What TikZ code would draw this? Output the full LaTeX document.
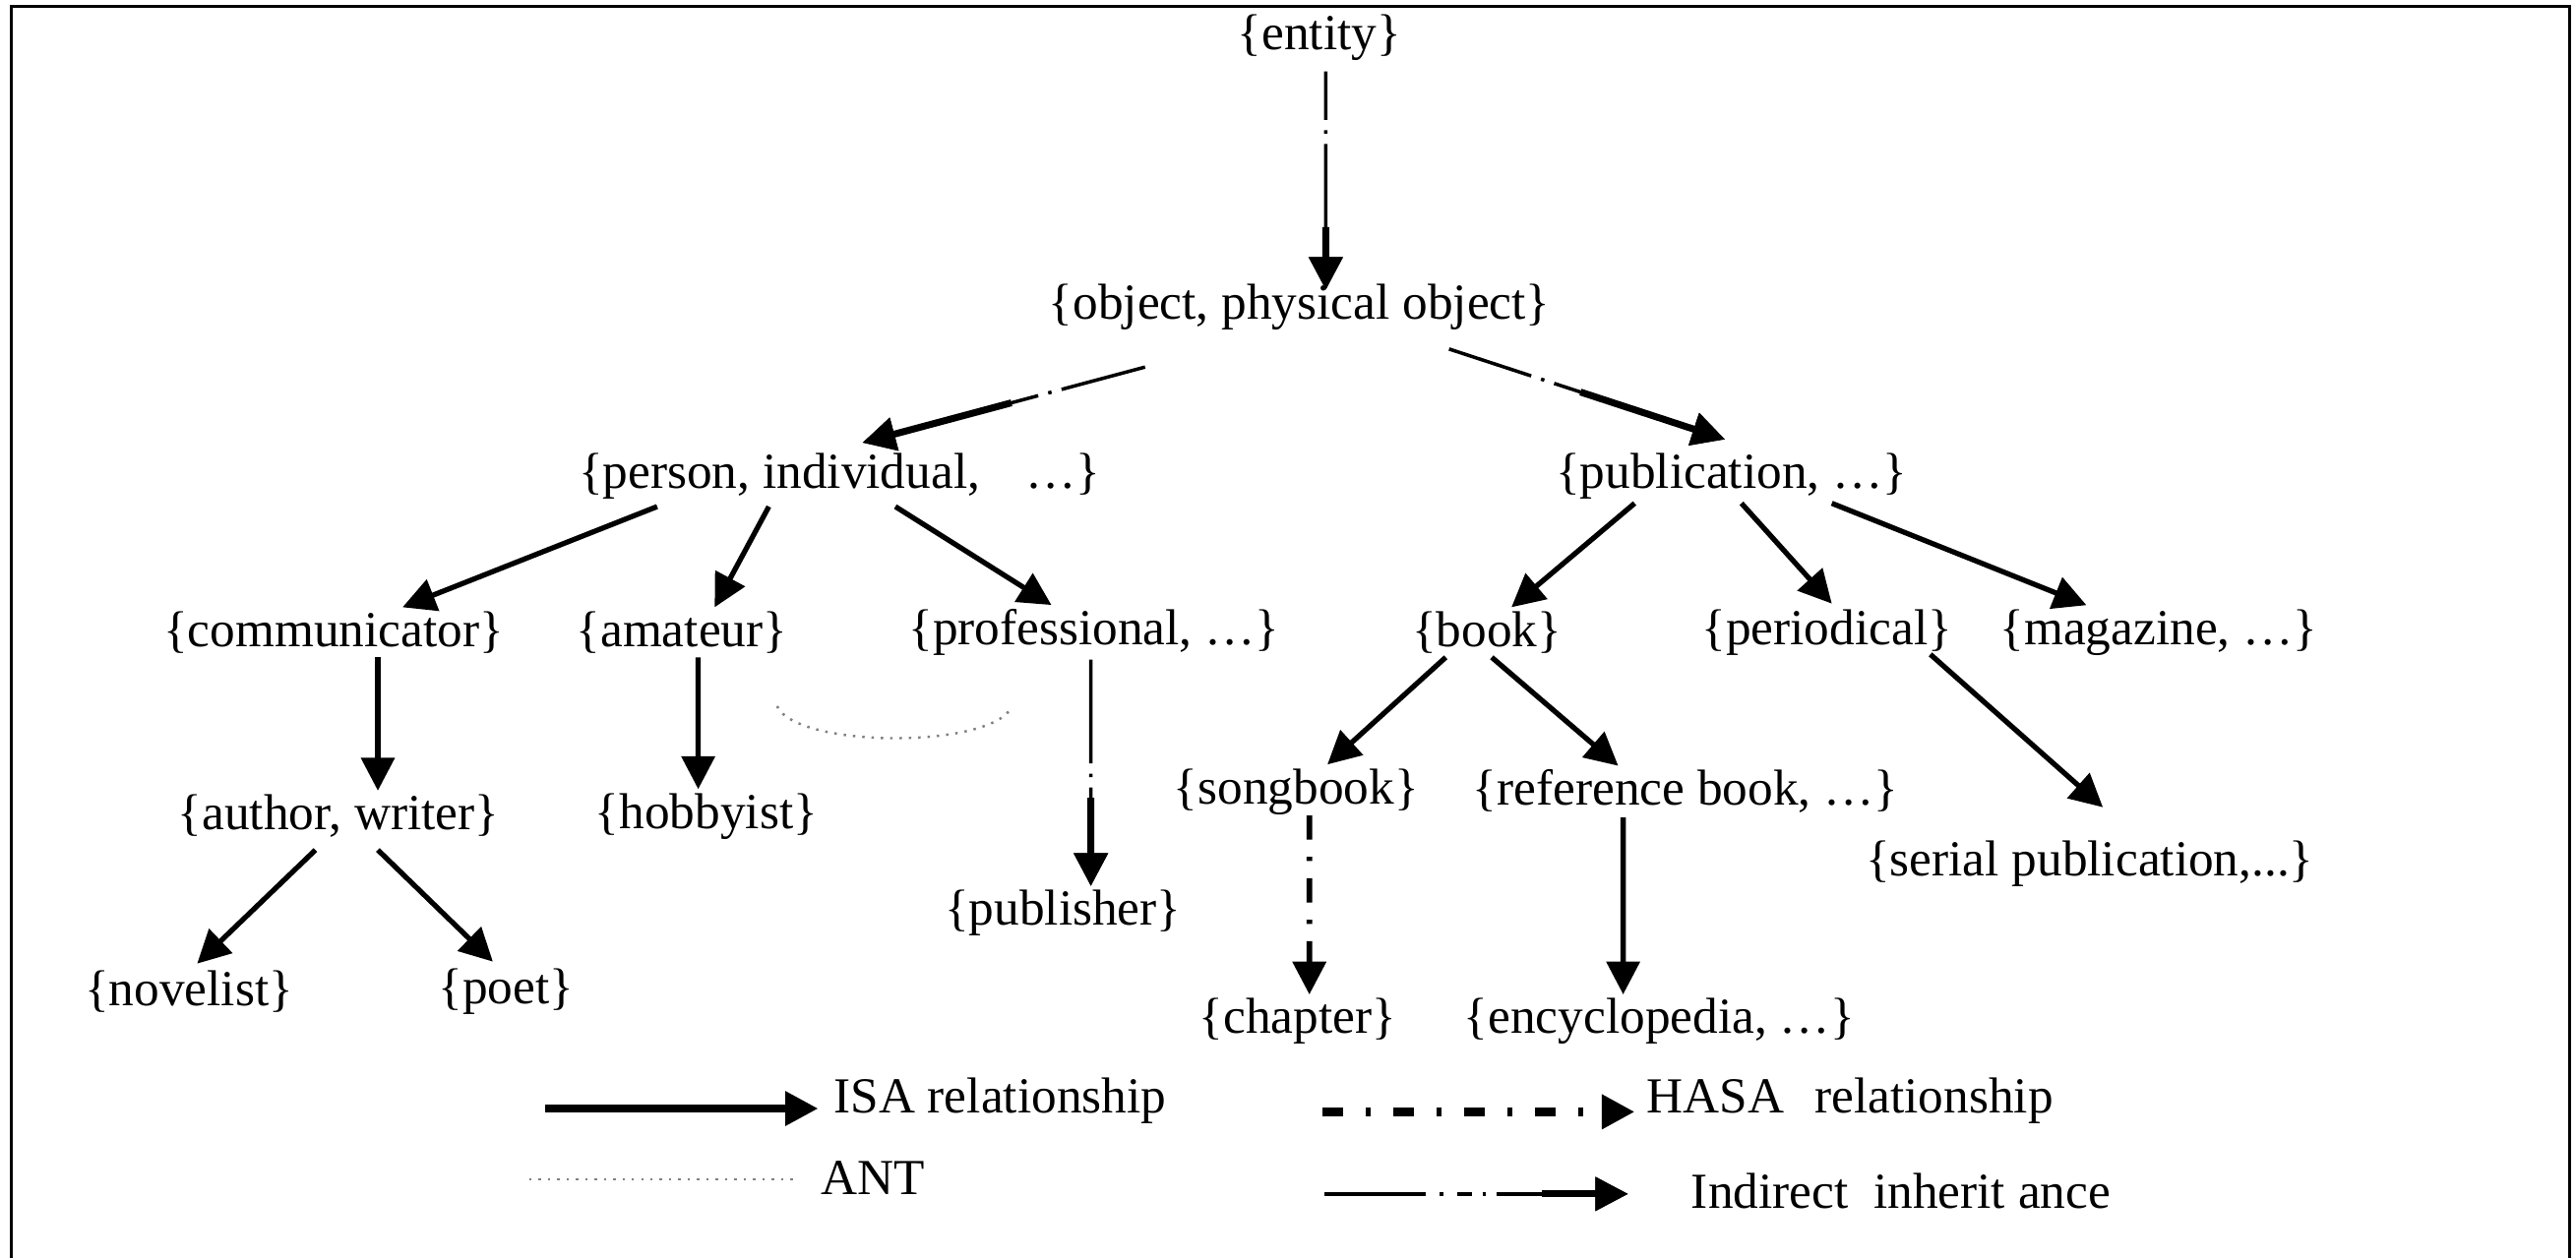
\documentclass[tikz,border=0pt]{standalone}
\usepackage{fontspec}
\setmainfont{Liberation Serif}
\usepackage{tikz}
\usetikzlibrary{arrows.meta}
\usetikzlibrary{calc}

\begin{document}
\begin{tikzpicture}[line join=miter,>={Triangle[length=9.5pt,width=9.5pt]},x=1.6696cm,y=1.6696cm,
  font=\fontsize{14.6}{17}\selectfont,
  every node/.style={inner sep=1pt},
  isa/.style={line width=1.5pt,->},
  hasa/.style={line width=1.6pt,dash pattern=on 7pt off 5pt on 1.2pt off 5pt,->},
  indirect/.style 2 args={line width=1pt,dash pattern=on #1 off 3pt on 1pt off 3pt on 400pt,->,postaction={draw,solid,line width=2pt,shorten <=#2}},
  ant/.style={line width=0.7pt,dotted,gray}]
\useasboundingbox (0,0) rectangle (15.68,-7.66);
\draw [line width=1pt] (0.07,-7.66)-- (0.07,-0.04)-- (15.64,-0.04)-- (15.64,-7.66);
% concepts
\draw (8.03,-0.23) node (entity) {\{entity\}};
\draw (7.91,-1.87) node (object) {\{object, physical object\}};
\draw (5.11,-2.90) node (person) {\{person, individual,\hspace{0.9em}\ldots\}};
\draw (10.54,-2.90) node (publication) {\{publication, \ldots\}};
\draw (2.03,-3.85) node (communicator) {\{communicator\}};
\draw (4.15,-3.85) node (amateur) {\{amateur\}};
\draw (6.66,-3.85) node (professional) {\{professional, \ldots\}};
\draw (9.05,-3.85) node (book) {\{book\}};
\draw (11.12,-3.85) node (periodical) {\{periodical\}};
\draw (13.14,-3.85) node (magazine) {\{magazine, \ldots\}};
\draw (2.06,-4.97) node (author) {\{author, writer\}};
\draw (4.30,-4.97) node (hobbyist) {\{hobbyist\}};
\draw (7.89,-4.82) node (songbook) {\{songbook\}};
\draw (10.26,-4.82) node (refbook) {\{reference book, \ldots\}};
\draw (6.47,-5.56) node (publisher) {\{publisher\}};
\draw (12.72,-5.26) node (serial) {\{serial publication,...\}};
\draw (1.15,-6.04) node (novelist) {\{novelist\}};
\draw (3.08,-6.04) node (poet) {\{poet\}};
\draw (7.90,-6.22) node (chapter) {\{chapter\}};
\draw (10.10,-6.22) node (encyclopedia) {\{encyclopedia, \ldots\}};
% links
\draw [indirect={14pt}{45pt}] ($(entity.south)+(0.04,-0.04)$)-- ($(object.north)+(0.16,-0.06)$);
\draw [indirect={25pt}{40pt}] ($(object.south)+(-0.94,-0.20)$)-- ($(person.north)+(0.14,0.04)$);
\draw [indirect={25pt}{40pt}] ($(object.south)+(0.91,-0.09)$)-- ($(publication.north)+(-0.04,0.06)$);
\draw [isa] ($(person.south)+(-1.11,-0.02)$)-- ($(communicator.north)+(0.42,0)$);
\draw [isa] ($(person.south)+(-0.43,-0.02)$)-- ($(amateur.north)+(0.20,0)$);
\draw [isa] ($(person.south)+(0.34,-0.02)$)-- ($(professional.north)+(-0.26,0)$);
\draw [isa] ($(communicator.south)+(0.27,0)$)-- ($(author.north)+(0.24,0)$);
\draw [isa] ($(amateur.south)+(0.10,0)$)-- ($(hobbyist.north)+(-0.05,0)$);
\draw [indirect={30pt}{40pt}] ($(professional.south)+(-0.02,0)$)-- ($(publisher.north)+(0.17,0)$);
\draw [isa] ($(author.south)+(-0.14,-0.05)$)-- ($(novelist.north)+(0.05,0.02)$);
\draw [isa] ($(author.south)+(0.24,-0.05)$)-- ($(poet.north)+(-0.08,0.02)$);
\draw [isa] ($(publication.south)+(-0.59,0)$)-- ($(book.north)+(0.15,0)$);
\draw [isa] ($(publication.south)+(0.06,0)$)-- ($(periodical.north)+(0.03,0.01)$);
\draw [isa] ($(publication.south)+(0.61,0)$)-- ($(magazine.north)+(-0.44,0)$);
\draw [isa] ($(book.south)+(-0.25,0)$)-- ($(songbook.north)+(0.19,0)$);
\draw [isa] ($(book.south)+(0.03,0)$)-- ($(refbook.north)+(-0.41,0)$);
\draw [isa] ($(periodical.south)+(0.63,0.03)$)-- ($(serial.north)+(0.08,0.18)$);
\draw [hasa] ($(songbook.south)+(0.08,0.02)$)-- ($(chapter.north)+(0.07,0)$);
\draw [isa] ($(refbook.south)+(-0.38,0)$)-- ($(encyclopedia.north)+(-0.22,0)$);
\coordinate (antA) at (4.73,-4.30);
\coordinate (antB) at (6.16,-4.30);
\draw [ant] (antA) .. controls (4.85,-4.56) and (6.05,-4.56) .. (antB);
% legend
\coordinate (isaA) at (3.32,-6.75);
\coordinate (isaB) at (4.98,-6.75);
\draw [isa,line width=2.2pt] (isaA)-- (isaB);
\draw (5.05,-6.70) node[anchor=west] (isaText) {ISA relationship};
\coordinate (hasaA) at (8.05,-6.77);
\coordinate (hasaB) at (9.95,-6.77);
\draw [hasa,line width=2.4pt,dash pattern=on 6pt off 6.5pt on 1.5pt off 6.5pt] (hasaA)-- (hasaB);
\draw (10.00,-6.70) node[anchor=west] (hasaText) {HASA\hspace{0.6em}relationship};
\coordinate (antC) at (3.22,-7.18);
\coordinate (antD) at (4.85,-7.18);
\draw [ant] (antC)-- (antD);
\draw (4.97,-7.17) node[anchor=west] (antText) {ANT};
\coordinate (indA) at (8.06,-7.27);
\coordinate (indB) at (9.91,-7.27);
\draw [indirect={29pt}{63pt},dash pattern=on 29.5pt off 4pt on 1pt off 4pt on 4.3pt off 3pt on 1pt off 3pt on 200pt] (indA)-- (indB);
\draw (10.27,-7.25) node[anchor=west] (indText) {Indirect\ \ inherit ance};
\end{tikzpicture}
\end{document}
